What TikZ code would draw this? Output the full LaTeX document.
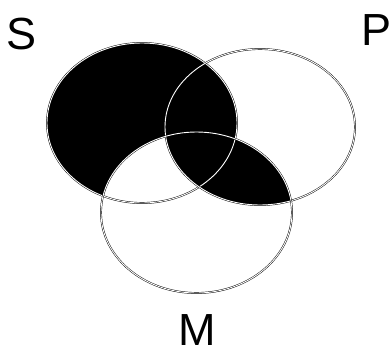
\documentclass[tikz,border=0pt]{standalone}
\usepackage{fontspec}
\setmainfont{Liberation Sans}
\begin{document}
\begin{tikzpicture}[x=1pt,y=-1pt,
  outline/.style={draw=black,line width=0.45pt,double=white,double distance=0.9pt},
  lbl/.style={font=\fontsize{45}{45}\selectfont,inner sep=0pt}]
\useasboundingbox (0,0) rectangle (390,351);
\def\Spath{(142,123) ellipse [x radius=95,y radius=80]}
\def\Ppath{(260,127) ellipse [x radius=95,y radius=78]}
\def\Mpath{(196.5,212.5) ellipse [x radius=95.5,y radius=80.5]}
% S black
\fill[black] \Spath;
% S and M outside P -> white
\begin{scope}
  \clip \Spath; \clip \Mpath;
  \fill[white] \Mpath;
\end{scope}
% S and P -> black
\begin{scope}
  \clip \Spath; \clip \Ppath;
  \fill[black] \Ppath;
\end{scope}
% P and M -> black
\begin{scope}
  \clip \Ppath; \clip \Mpath;
  \fill[black] \Mpath;
\end{scope}
\draw[outline] \Spath;
\draw[outline] \Ppath;
\draw[outline] \Mpath;
\node[lbl] (S) at (22,34) {S};
\node[lbl] (P) at (376,30) {P};
\node[lbl] (M) at (197,330) {M};
\end{tikzpicture}
\end{document}
